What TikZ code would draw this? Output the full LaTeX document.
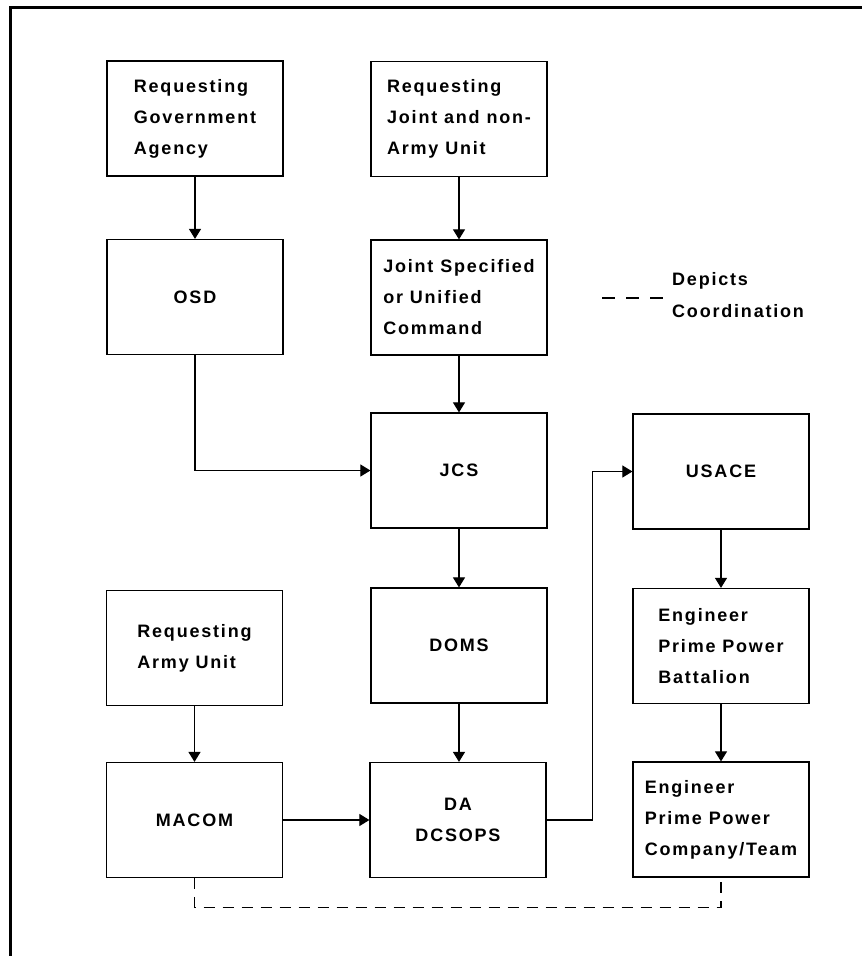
\documentclass[tikz,border=0pt]{standalone}
\usepackage{fontspec}
\setmainfont{Liberation Sans}[LetterSpace=10]
\usetikzlibrary{arrows.meta}

\begin{document}
\begin{tikzpicture}[x=1pt,y=-1pt,
  unit/.style={draw,line width=1.2pt,minimum width=176pt,minimum height=115pt,inner sep=0pt,align=left,font=\bfseries\fontsize{18}{31}\selectfont},
  legendtext/.style={inner sep=0pt,align=left,font=\bfseries\fontsize{18}{32}\selectfont},
  flow/.style={line width=1.1pt,-{Triangle[width=12pt,length=10pt]}},
  coord/.style={line width=1.1pt,dash pattern=on 11pt off 8pt}]
\useasboundingbox (0,0) rectangle (862,956);
\draw[line width=2.8pt] (10.5,956) -- (10.5,7.5) -- (862,7.5);

\node[unit] (reqgov) at (195,118.5) {Requesting\\Government\\Agency};
\node[unit] (osd) at (195,297) {OSD};
\node[unit] (reqjoint) at (459,119) {Requesting\\Joint and non-\\Army Unit};
\node[unit] (jointcmd) at (459,297.5) {Joint Specified\\or Unified\\Command};
\node[unit] (jcs) at (459,470.5) {JCS};
\node[unit] (doms) at (459,645.5) {DOMS};
\node[unit,align=center] (da) at (458,820) {DA\\DCSOPS};
\node[unit] (reqarmy) at (194.5,648) {Requesting\\Army Unit};
\node[unit] (macom) at (194.5,820) {MACOM};
\node[unit] (usace) at (721,471.5) {USACE};
\node[unit] (battalion) at (721,646) {Engineer\\Prime Power\\Battalion};
\node[unit] (company) at (721,819.5) {Engineer\\Prime Power\\Company/Team};

\coordinate (legtail) at (602,298);
\coordinate (leghead) at (667,298);
\node[legendtext,anchor=west] (legend) at (672,295) {Depicts\\Coordination};

\draw[flow] (reqgov.south) -- (osd.north);
\draw[flow] (reqjoint.south) -- (jointcmd.north);
\draw[flow] (jointcmd.south) -- (jcs.north);
\draw[flow] (osd.south) |- (jcs.west);
\draw[flow] (jcs.south) -- (doms.north);
\draw[flow] (doms.south) -- (doms.south |- da.north);
\draw[flow] (reqarmy.south) -- (macom.north);
\draw[flow] (macom.east) -- (da.west);
\draw[flow] (da.east) -- ++(46,0) |- (usace.west);
\draw[flow] (usace.south) -- (battalion.north);
\draw[flow] (battalion.south) -- (company.north);
\draw[coord] (macom.south) -- ++(0,29) -| (company.south);
\draw[coord,dash pattern=on 13pt off 11pt] (legtail) -- (leghead);
\end{tikzpicture}
\end{document}
